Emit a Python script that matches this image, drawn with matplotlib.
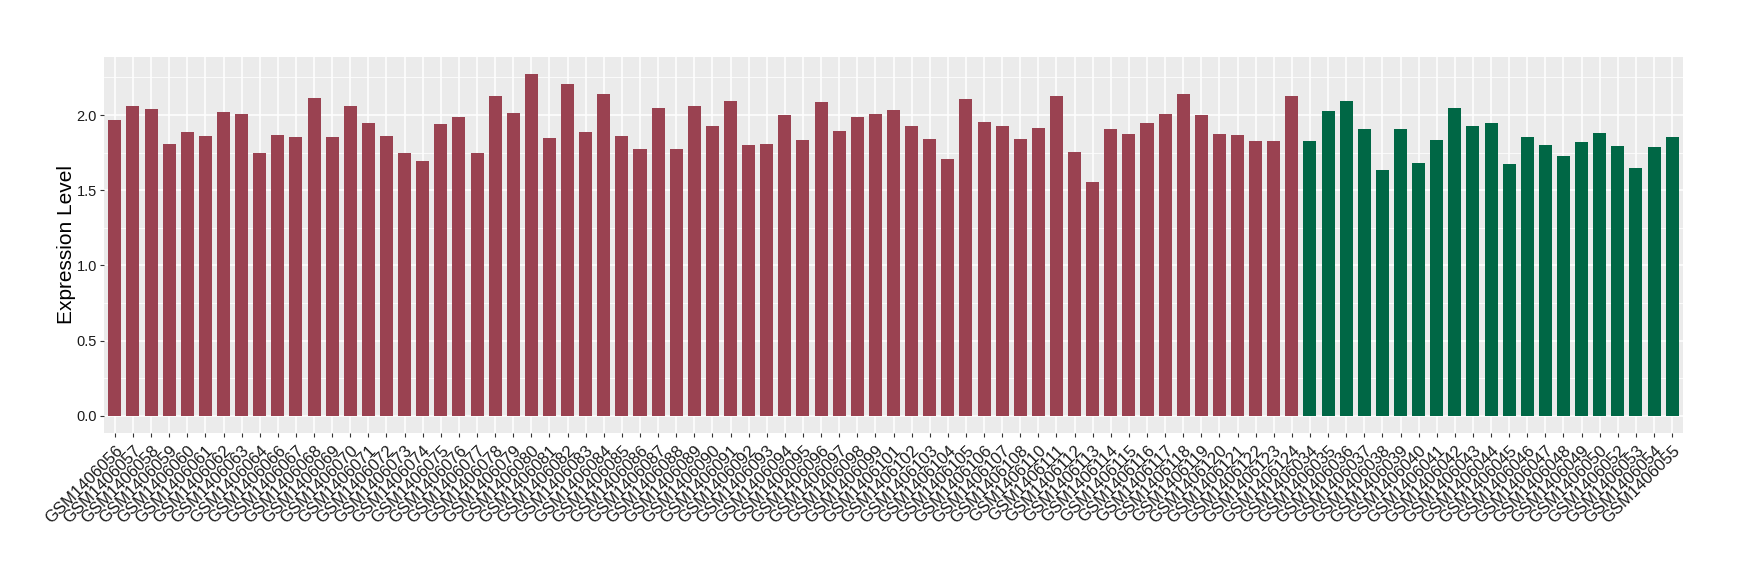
import matplotlib
matplotlib.use("Agg")
import matplotlib.pyplot as plt
import numpy as np

group1_ids = ["056", "057", "058", "059", "060", "061", "062", "063", "064", "066",
              "067", "068", "069", "070", "071", "072", "073", "074", "075", "076",
              "077", "078", "079", "080", "081", "082", "083", "084", "085", "086",
              "087", "088", "089", "090", "091", "092", "093", "094", "095", "096",
              "097", "098", "099", "101", "102", "103", "104", "105", "106", "107",
              "108", "110", "111", "112", "113", "114", "115", "116", "117", "118",
              "119", "120", "121", "122", "123", "124"]
group1_values = [1.967, 2.060, 2.040, 1.808, 1.887, 1.861, 2.020, 2.007, 1.748, 1.867,
                 1.854, 2.113, 1.854, 2.060, 1.947, 1.861, 1.748, 1.695, 1.940, 1.987,
                 1.748, 2.126, 2.013, 2.272, 1.847, 2.206, 1.887, 2.139, 1.861, 1.774,
                 2.046, 1.774, 2.060, 1.927, 2.093, 1.801, 1.808, 2.000, 1.834, 2.086,
                 1.894, 1.987, 2.007, 2.033, 1.927, 1.841, 1.708, 2.106, 1.954, 1.927,
                 1.841, 1.914, 2.126, 1.754, 1.555, 1.907, 1.874, 1.947, 2.007, 2.139,
                 2.000, 1.874, 1.867, 1.828, 1.828, 2.126]
group2_ids = ["034", "035", "036", "037", "038", "039", "040", "041", "042", "043",
              "044", "045", "046", "047", "048", "049", "050", "052", "053", "054", "055"]
group2_values = [1.828, 2.027, 2.093, 1.907, 1.635, 1.907, 1.681, 1.834, 2.046, 1.927,
                 1.947, 1.675, 1.854, 1.801, 1.728, 1.821, 1.881, 1.794, 1.648, 1.788, 1.854]

color1 = "#9A4251"
color2 = "#006745"

labels = ["GSM1406" + s for s in group1_ids + group2_ids]
values = group1_values + group2_values
colors = [color1] * len(group1_values) + [color2] * len(group2_values)
x = np.arange(len(labels))

fig = plt.figure(figsize=(17.4, 5.8), dpi=100)
ax = fig.add_axes([104 / 1740, 1 - 433 / 580, (1683 - 104) / 1740, (433 - 57) / 580])
ax.set_facecolor("#EBEBEB")

ax.set_axisbelow(True)
ax.set_yticks([0.25, 0.75, 1.25, 1.75, 2.25], minor=True)
ax.grid(which="major", color="white", linewidth=1.1)
ax.grid(which="minor", axis="y", color="white", linewidth=0.55)

ax.bar(x, values, width=0.72, color=colors, zorder=2)

ax.set_xlim(-0.6, len(labels) - 0.4)
ymax = max(values) * 1.05
ax.set_ylim(-0.05 * max(values), ymax)
ax.set_yticks([0.0, 0.5, 1.0, 1.5, 2.0])
ax.set_yticklabels(["0.0", "0.5", "1.0", "1.5", "2.0"])
ax.set_xticks(x)
ax.set_xticklabels(labels, rotation=45, ha="right", rotation_mode="anchor")

for s in ax.spines.values():
    s.set_visible(False)
ax.tick_params(axis="both", which="major", length=3, width=0.8, color="#333333",
               labelcolor="#1A1A1A")
ax.tick_params(axis="y", which="major", labelsize=10.5, pad=2)
ax.tick_params(axis="x", which="major", labelsize=12, pad=4)
ax.tick_params(axis="y", which="minor", length=0)
for t in ax.get_xticklabels() + ax.get_yticklabels():
    t.set_fontfamily("Liberation Sans")

ax.set_ylabel("Expression Level", fontsize=15, fontfamily="Liberation Sans")
ax.yaxis.set_label_coords(-0.018, 0.5)

fig.savefig("out.png", dpi=100)
